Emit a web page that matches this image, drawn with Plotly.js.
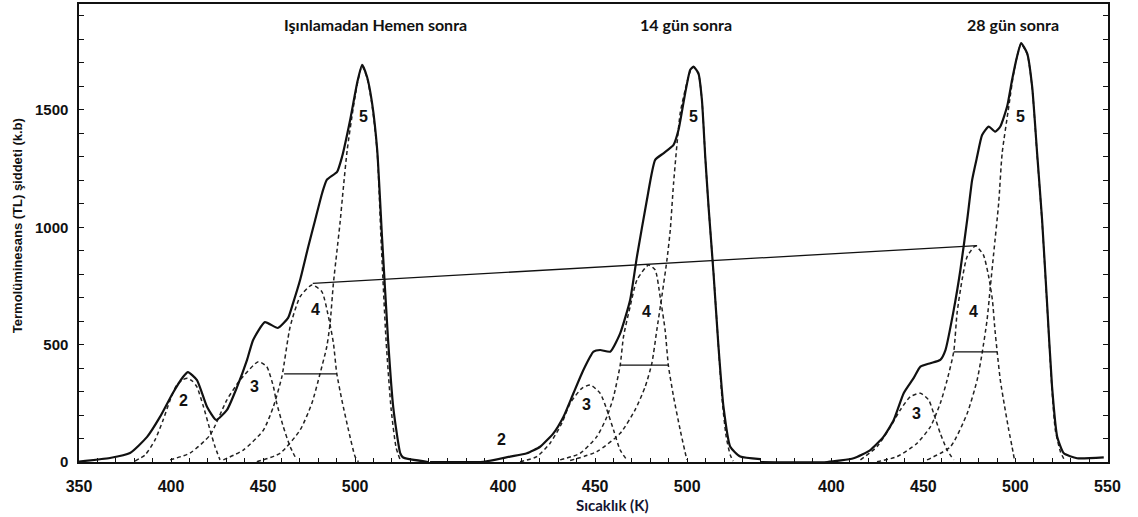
<!DOCTYPE html>
<html>
<head>
<meta charset="utf-8">
<script src="https://cdn.plot.ly/plotly-3.0.1.min.js"></script>
<style>html,body{margin:0;padding:0;background:#fff;}#chart{width:1138px;height:517px;}</style>
</head>
<body>
<div id="chart"></div>
<script>
// ---------- DATA (temperature K, TL intensity a.u.) ----------
const panelTitles = ['Işınlamadan Hemen sonra', '14 gün sonra', '28 gün sonra'];

// Panel 1 : Işınlamadan hemen sonra
const p1T = [350, 366.8, 377.7, 387, 394, 401, 406.5, 409.2, 414.1, 419.6, 424.5, 430.4, 435.9, 441.3, 444.6, 451, 458, 463.6, 466.3, 470.1, 474.5, 478.3, 482.1, 484.6, 490.2, 492.9, 497.3, 501.1, 503.8, 506.5, 509.2, 512, 514.7, 517.9, 520.7, 524.5, 526.1, 539.7];
const p1I = [2, 17, 38, 107, 192, 294, 362, 383, 349, 234, 179, 222, 320, 435, 520, 596, 571, 614, 677, 775, 916, 1031, 1146, 1202, 1236, 1300, 1457, 1615, 1692, 1640, 1530, 1329, 946, 520, 234, 38, 19, 0];
const p1c2T = [380.4, 385.9, 391.3, 395.7, 399.5, 403.1, 406, 408.9, 411.5, 414, 417.6, 421.2, 423.9, 426.6];
const p1c2I = [4, 30, 94, 179, 264, 328, 349, 357, 345, 321, 236, 136, 65, 9];
const p1c3T = [399.5, 410.3, 421.2, 430.3, 437.5, 447.4, 452, 455.6, 457.4, 461, 464.7, 468.3];
const p1c3I = [9, 38, 115, 264, 349, 427, 406, 321, 251, 150, 65, 9];
const p1c4T = [428.4, 439.3, 450.2, 455.6, 460.2, 464.7, 470.1, 476.5, 481.9, 485.5, 488.2, 490, 492.8, 496.4, 500, 501.8];
const p1c4I = [9, 51, 136, 236, 363, 576, 704, 754, 726, 619, 507, 379, 264, 136, 23, 1];
const p1c5T = [446.6, 459.2, 470.1, 476.5, 481, 484.6, 486.4, 488.2, 490, 491.8, 493.5, 495.7, 499.1, 501.6, 503.8, 506.5, 509.2, 512, 514.1, 516.8, 519.6, 522.3, 524.5];
const p1c5I = [1, 37, 136, 250, 378, 491, 591, 761, 890, 1018, 1159, 1329, 1514, 1628, 1687, 1636, 1521, 1321, 946, 520, 222, 60, 9];
const p1HalfT = [461.4, 490];
const p1HalfI = [375, 375];

// Panel 2 : 14 gün sonra
const p2T = [360.3, 389.3, 403.8, 412.9, 420.1, 427.3, 432.8, 438.2, 443.6, 449.1, 452.7, 458.2, 463.6, 469, 472.7, 478.1, 482.6, 487.1, 492.6, 495.3, 498.9, 501.6, 503.4, 506.1, 508, 509.8, 511.6, 514.3, 517, 519.7, 523.4, 528.8, 539.7];
const p2I = [0, 1, 23, 37, 65, 122, 193, 293, 392, 470, 477, 470, 548, 690, 875, 1116, 1287, 1315, 1351, 1415, 1571, 1670, 1684, 1656, 1542, 1301, 1088, 804, 491, 236, 65, 23, 12];
const p2c3T = [409.2, 418.3, 425.5, 431.9, 436.4, 442.8, 447.3, 452.7, 456.4, 460, 463.6, 467.2];
const p2c3I = [1, 23, 80, 165, 250, 314, 328, 293, 222, 136, 51, 9];
const p2c4T = [431, 441.8, 450.9, 456.4, 460, 463.6, 465.4, 469, 472.7, 479, 482.6, 485.3, 488, 489.8, 492.6, 496.2, 499.8];
const p2c4I = [9, 37, 108, 193, 278, 413, 534, 662, 775, 839, 818, 704, 562, 410, 278, 136, 9];
const p2c5T = [436.4, 450.9, 463.6, 471.7, 477.2, 480.8, 483.5, 486.2, 489, 490.8, 492.6, 496.2, 498.9, 501.6, 503.4, 506.1, 508, 509.8, 511.6, 514.3, 517, 519, 521.2, 523.4, 525];
const p2c5I = [6, 44, 122, 222, 321, 420, 562, 704, 861, 988, 1187, 1486, 1585, 1663, 1682, 1653, 1542, 1300, 1086, 805, 490, 264, 107, 30, 4];
const p2HalfT = [463.6, 489.8];
const p2HalfI = [413, 413];

// Panel 3 : 28 gün sonra
const p3T = [361.4, 397.7, 412.1, 421.2, 428.4, 433.9, 439.3, 444.7, 448.4, 453.8, 459.2, 462, 466.5, 470.1, 473.8, 476.5, 479.2, 481.9, 485.5, 489.1, 491.8, 495.5, 498.2, 500.9, 503.1, 506.4, 509.1, 511.8, 514.5, 517.2, 519.9, 522.7, 526.3, 533.5, 548];
const p3I = [0, 0, 16, 51, 108, 179, 293, 357, 406, 421, 435, 477, 648, 818, 1031, 1202, 1301, 1393, 1429, 1407, 1429, 1514, 1628, 1727, 1784, 1741, 1599, 1315, 1031, 676, 321, 108, 37, 16, 20];
const p3c3T = [415.8, 424.8, 432.1, 437.5, 442.9, 448.4, 452.9, 455.6, 459.2, 462.9, 466.5];
const p3c3I = [9, 65, 150, 222, 278, 293, 264, 207, 122, 51, 9];
const p3c4T = [424.8, 435.7, 446.6, 453.8, 459.2, 462.9, 466.5, 468.3, 471, 473.8, 478.3, 482.6, 485.3, 487.5, 488.9, 490.1, 491.8, 494, 496.4, 498.2, 499.5];
const p3c4I = [1, 23, 80, 150, 250, 349, 470, 634, 775, 875, 920, 882, 797, 690, 562, 469, 349, 243, 136, 64, 9];
const p3c5T = [452, 464.7, 473.8, 479.2, 481.9, 484.6, 486.4, 488.2, 490.9, 492.8, 496.4, 498.9, 501.1, 503.1, 506.4, 509.1, 511.8, 514.5, 517.2, 519.9, 521.7, 524.5, 526.6];
const p3c5I = [9, 65, 207, 349, 463, 605, 747, 889, 1102, 1315, 1514, 1649, 1734, 1781, 1738, 1594, 1308, 1023, 669, 307, 136, 43, 9];
const p3HalfT = [466.5, 490.1];
const p3HalfI = [469, 469];

// line joining the peak-4 maxima of panel 1 and panel 3
const linkPanel = [0, 2];
const linkT = [477.0, 479.2];
const linkI = [761, 922];

// peak numbers
const peakText  = ['2', '3', '4', '5', '2', '3', '4', '5', '3', '4', '5'];
const peakPanel = [0, 0, 0, 0, 1, 1, 1, 1, 2, 2, 2];
const peakT     = [406.7, 445.1, 478.3, 504.5, 399.3, 445.5, 477.7, 503.4, 446.2, 477.3, 503.0];
const peakI     = [264, 321, 648, 1471, 94, 243, 640, 1471, 207, 640, 1471];

// axis tick labels
const yTickLabels = [0, 500, 1000, 1500];

// ---------- LAYOUT CONSTANTS ----------
const OFF = [0, 180.4, 358.7];           // shift of each panel on the shared axis
const TICK_FROM = [350, 370, 370];
const TICK_TO = [540, 540, 550];
const titleT = [510.9, 499.5, 498.9];

const sh = (arr, p) => arr.map(t => t + OFF[p]);

const traces = [];
function mainCurve(T, I, p) {
  traces.push({x: sh(T, p), y: I, mode: 'lines', line: {color: '#111', width: 2.2, shape: 'spline', smoothing: 0.5}, hoverinfo: 'skip'});
}
function comp(T, I, p) {
  traces.push({x: sh(T, p), y: I, mode: 'lines', line: {color: '#222', width: 1.5, dash: '4px,3px', shape: 'spline', smoothing: 0.6}, hoverinfo: 'skip'});
}
function seg(T, I, p) {
  traces.push({x: sh(T, p), y: I, mode: 'lines', line: {color: '#111', width: 1.3}, hoverinfo: 'skip'});
}

comp(p1c2T, p1c2I, 0); comp(p1c3T, p1c3I, 0); comp(p1c4T, p1c4I, 0); comp(p1c5T, p1c5I, 0);
comp(p2c3T, p2c3I, 1); comp(p2c4T, p2c4I, 1); comp(p2c5T, p2c5I, 1);
comp(p3c3T, p3c3I, 2); comp(p3c4T, p3c4I, 2); comp(p3c5T, p3c5I, 2);
seg(p1HalfT, p1HalfI, 0); seg(p2HalfT, p2HalfI, 1); seg(p3HalfT, p3HalfI, 2);
traces.push({x: linkT.map((t, i) => t + OFF[linkPanel[i]]), y: linkI, mode: 'lines', line: {color: '#111', width: 1.3}, hoverinfo: 'skip'});
mainCurve(p1T, p1I, 0); mainCurve(p2T, p2I, 1); mainCurve(p3T, p3I, 2);

// x ticks: every 10 K within each panel, labelled every 50 K
const xTickVals = [], xTickText = [];
for (let p = 0; p < 3; p++) {
  for (let t = TICK_FROM[p]; t <= TICK_TO[p]; t += 10) {
    xTickVals.push(t + OFF[p]);
    xTickText.push(t % 50 === 0 ? String(t) : '');
  }
}
const yTickVals = [], yTickText = [];
for (let v = 0; v <= 1900; v += 100) {
  yTickVals.push(v);
  yTickText.push(yTickLabels.includes(v) ? String(v) : '');
}

const annotations = [];
for (let i = 0; i < peakText.length; i++) {
  annotations.push({x: peakT[i] + OFF[peakPanel[i]], y: peakI[i], xref: 'x', yref: 'y', text: peakText[i], showarrow: false,
    xanchor: 'center', yanchor: 'middle',
    font: {family: 'Liberation Sans, Arial, sans-serif', size: 16, color: '#111', weight: 700}});
}
for (let p = 0; p < 3; p++) {
  annotations.push({x: titleT[p] + OFF[p], y: 1862, xref: 'x', yref: 'y', text: panelTitles[p], showarrow: false,
    xanchor: 'center', yanchor: 'middle',
    font: {family: 'Lato, Open Sans, sans-serif', size: 16, color: '#111', weight: 700}});
}
annotations.push({x: 0.518, y: -0.094, xref: 'paper', yref: 'paper', text: 'Sıcaklık (K)', showarrow: false,
  xanchor: 'center', yanchor: 'middle',
  font: {family: 'Lato, Open Sans, sans-serif', size: 15, color: '#141432', weight: 700}});
annotations.push({x: -0.0603, y: 0.517, xref: 'paper', yref: 'paper', text: 'Termolüminesans (TL) şiddeti (k.b)', textangle: -90, showarrow: false,
  xanchor: 'center', yanchor: 'middle',
  font: {family: 'Liberation Sans, Arial, sans-serif', size: 13, color: '#111', weight: 700}});

const layout = {
  width: 1138, height: 517,
  margin: {l: 79, r: 30, t: 4, b: 55},
  paper_bgcolor: '#fff', plot_bgcolor: '#fff',
  showlegend: false,
  xaxis: {range: [350, 909], tickvals: xTickVals, ticktext: xTickText, ticks: 'inside', ticklen: 4, tickwidth: 1, tickcolor: '#111',
    showgrid: false, zeroline: false, showline: true, linecolor: '#111', linewidth: 1.6, mirror: true,
    ticklabelstandoff: 9,
    tickfont: {family: 'Liberation Sans, Arial, sans-serif', size: 16, color: '#111', weight: 700}},
  yaxis: {range: [0, 1951], tickvals: yTickVals, ticktext: yTickText, ticks: 'inside', ticklen: 5, tickwidth: 1, tickcolor: '#111',
    showgrid: false, zeroline: false, showline: true, linecolor: '#111', linewidth: 1.6, mirror: 'ticks',
    ticklabelstandoff: 6,
    tickfont: {family: 'Liberation Sans, Arial, sans-serif', size: 15, color: '#111', weight: 700}},
  annotations: annotations
};

Plotly.newPlot('chart', traces, layout, {displayModeBar: false, staticPlot: true});
</script>
</body>
</html>
